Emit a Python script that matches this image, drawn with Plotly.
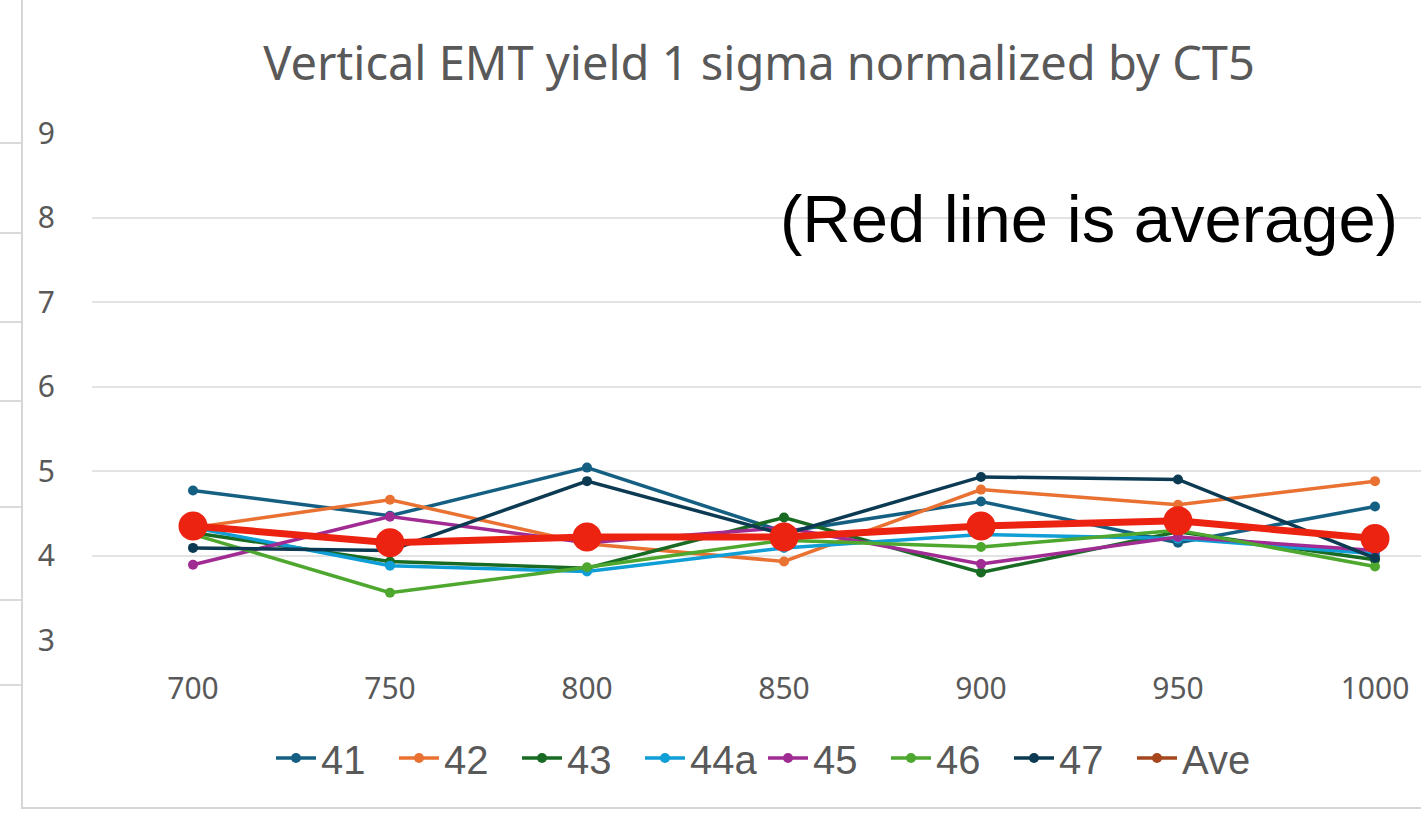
import plotly.graph_objects as go

# Temperatures (categories on the x axis)
temps = [700, 750, 800, 850, 900, 950, 1000]

# Yield 1-sigma normalized by CT5, one list per wafer
s41 = [4.77, 4.47, 5.04, 4.28, 4.64, 4.15, 4.58]
s42 = [4.33, 4.66, 4.14, 3.93, 4.78, 4.60, 4.88]
s43 = [4.27, 3.93, 3.85, 4.45, 3.80, 4.28, 3.95]
s44a = [4.33, 3.88, 3.81, 4.09, 4.25, 4.20, 4.02]
s45 = [3.89, 4.46, 4.15, 4.33, 3.90, 4.22, 4.06]
s46 = [4.25, 3.56, 3.86, 4.18, 4.10, 4.30, 3.87]
s47 = [4.09, 4.06, 4.88, 4.25, 4.93, 4.90, 3.97]
ave = [4.35, 4.15, 4.22, 4.22, 4.35, 4.41, 4.20]

series_names = ["41", "42", "43", "44a", "45", "46", "47"]
series_values = [s41, s42, s43, s44a, s45, s46, s47]
series_colors = ["#156082", "#E97132", "#196B24", "#0F9ED5", "#A02B93", "#4EA72E", "#0B3A52"]

y_ticks = [3, 4, 5, 6, 7, 8, 9]

W, H = 1421, 815
L, R, T, B = 92, 0, 133, 175
plot_w = W - L - R
plot_h = H - T - B

# x range so that the 700 and 1000 categories sit at their slots
px_per_unit = (1375 - 193) / 300.0
x0 = 700 - (193 - L) / px_per_unit
x1 = x0 + plot_w / px_per_unit

TEXT_GRAY = "#595959"
GRID = "#E3E3E3"

fig = go.Figure()

for name, vals, col in zip(series_names, series_values, series_colors):
    fig.add_trace(go.Scatter(
        x=temps, y=vals, name=name, mode="lines+markers",
        line=dict(color=col, width=3.5),
        marker=dict(color=col, size=10, symbol="circle"),
    ))

# Average drawn as the heavy red line
fig.add_trace(go.Scatter(
    x=temps, y=ave, name="Ave", mode="lines+markers",
    line=dict(color="#EC2310", width=7),
    marker=dict(color="#EC2310", size=29),
    showlegend=False,
))
# Legend entry for the average series
fig.add_trace(go.Scatter(
    x=[None], y=[None], name="Ave", mode="lines+markers",
    line=dict(color="#A5461C", width=3.5),
    marker=dict(color="#A5461C", size=10),
))


def px_x(p):
    return (p - L) / plot_w


def px_y(p):
    return (H - B - p) / plot_h


shapes = []
# chart-area border
shapes.append(dict(type="rect", xref="paper", yref="paper",
                   x0=px_x(22), x1=px_x(1440), y0=px_y(808), y1=px_y(-10),
                   line=dict(color="#D6D6D6", width=2), fillcolor="rgba(0,0,0,0)",
                   layer="below"))
# sheet cell lines to the left of the chart
for yy in [143, 233, 322, 401, 507, 600, 685]:
    shapes.append(dict(type="line", xref="paper", yref="paper",
                       x0=px_x(0), x1=px_x(21), y0=px_y(yy), y1=px_y(yy),
                       line=dict(color="#DADADA", width=2), layer="below"))

fig.update_layout(
    width=W, height=H,
    margin=dict(l=L, r=R, t=T, b=B, autoexpand=False),
    paper_bgcolor="white", plot_bgcolor="white",
    title=dict(text="Vertical EMT yield 1 sigma normalized by CT5",
               x=px_x(759), xref="paper", xanchor="center",
               y=1 - 64 / H, yanchor="middle",
               font=dict(family="Noto Sans", size=47, color=TEXT_GRAY)),
    xaxis=dict(range=[x0, x1], tickvals=temps, ticktext=[str(t) for t in temps],
               showgrid=False, zeroline=False, showline=False, ticks="",
               ticklabelstandoff=28,
               tickfont=dict(family="Noto Sans", size=30, color=TEXT_GRAY)),
    yaxis=dict(range=[3, 9], tickvals=y_ticks, showgrid=True, gridcolor=GRID,
               gridwidth=2, zeroline=False, showline=False, ticks="",
               ticklabelstandoff=36,
               tickfont=dict(family="Noto Sans", size=30, color=TEXT_GRAY)),
    legend=dict(orientation="h", x=px_x(763), xanchor="center",
                y=px_y(758), yanchor="middle",
                font=dict(family="Liberation Sans", size=40, color=TEXT_GRAY),
                bgcolor="rgba(0,0,0,0)", itemwidth=40,
                entrywidth=68, entrywidthmode="pixels"),
    shapes=shapes,
    annotations=[dict(text="(Red line is average)", xref="paper", yref="paper",
                      x=px_x(1400), y=px_y(218), xanchor="right", yanchor="middle",
                      showarrow=False,
                      font=dict(family="Liberation Sans", size=67, color="black"))],
    showlegend=True,
)

fig.write_html("out.html")
